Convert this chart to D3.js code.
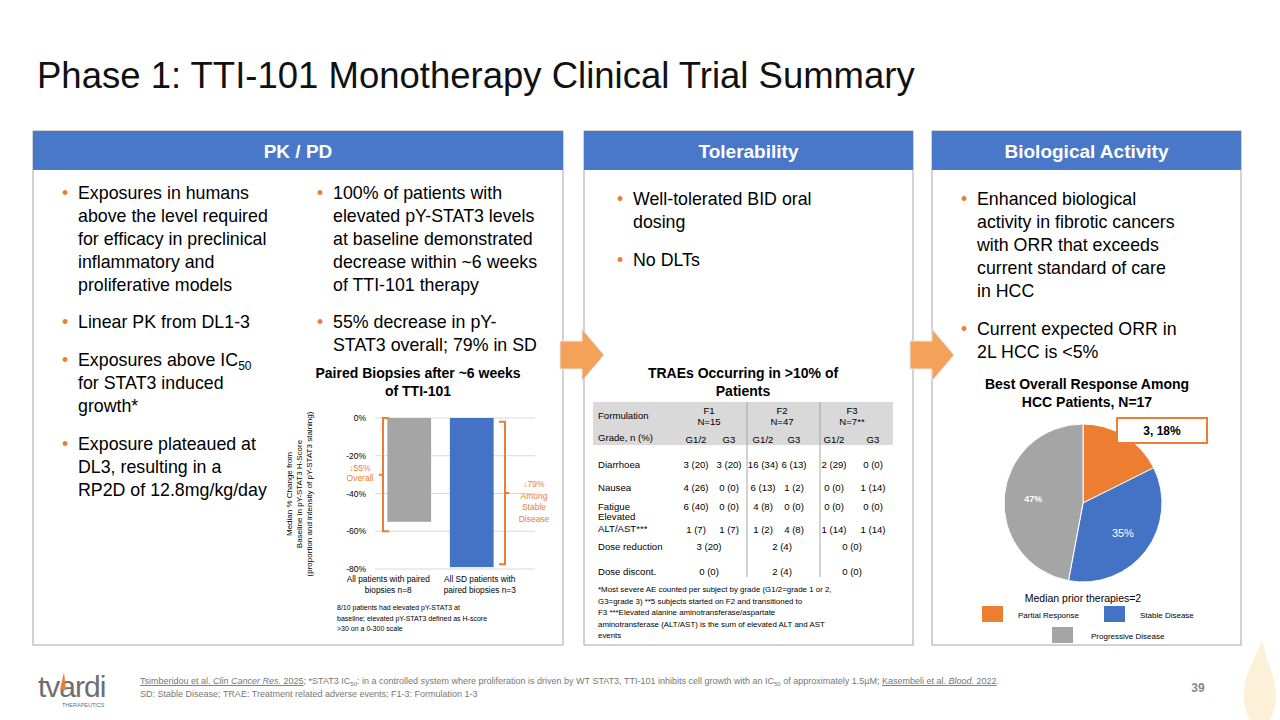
<!DOCTYPE html>
<html><head><meta charset="utf-8">
<script src="https://cdn.jsdelivr.net/npm/d3@7"></script>
<style>body{margin:0;background:#fff}svg{font-family:Arial,"Liberation Sans",sans-serif;display:block}</style>
</head><body>
<svg id="s" width="1280" height="720"></svg>
<script>
// bar chart data
var barCats = [["All patients with paired","biopsies n=8"],["All SD patients with","paired biopsies n=3"]];
var barVals = [-55, -79];
var barColors = ["#a5a5a5","#4472c4"];
var barTicks = [0,-20,-40,-60,-80];
// table data
var tblGroups = [["F1","N=15"],["F2","N=47"],["F3","N=7**"]];
var tblRows = ["Diarrhoea","Nausea","Fatigue","Elevated ALT/AST***"];
var tblVals = [
  ["3 (20)","3 (20)","16 (34)","6 (13)","2 (29)","0 (0)"],
  ["4 (26)","0 (0)","6 (13)","1 (2)","0 (0)","1 (14)"],
  ["6 (40)","0 (0)","4 (8)","0 (0)","0 (0)","0 (0)"],
  ["1 (7)","1 (7)","1 (2)","4 (8)","1 (14)","1 (14)"]];
var doseRows = [["Dose reduction","3 (20)","2 (4)","0 (0)"],["Dose discont.","0 (0)","2 (4)","0 (0)"]];
// pie data
var pieCats = ["Partial Response","Stable Disease","Progressive Disease"];
var pieVals = [3, 6, 8];
var pieColors = ["#ed7d31","#4472c4","#a5a5a5"];

var svg = d3.select("#s");
var ORG = "#ed7d31", BLUE = "#4a78c9", TXT = "#000";

svg.append("text").attr("x",37).attr("y",88).attr("font-size",36.5).attr("fill","#111")
  .text("Phase 1: TTI-101 Monotherapy Clinical Trial Summary");

// panels
[[33,563,"PK / PD"],[584,913,"Tolerability"],[932,1241,"Biological Activity"]].forEach(function(p){
  svg.append("rect").attr("x",p[0]).attr("y",131).attr("width",p[1]-p[0]).attr("height",514)
    .attr("fill","none").attr("stroke","#a6a6a6");
  svg.append("rect").attr("x",p[0]).attr("y",131).attr("width",p[1]-p[0]).attr("height",39).attr("fill",BLUE);
  svg.append("text").attr("x",(p[0]+p[1])/2).attr("y",158).attr("text-anchor","middle")
    .attr("fill","#fff").attr("font-size",19).attr("font-weight","bold").text(p[2]);
});
// arrows
[[560,355],[910,355]].forEach(function(a){
  var x=a[0], y=a[1];
  svg.append("path").attr("d","M"+x+","+(y-14)+"L"+(x+22)+","+(y-14)+"L"+(x+22)+","+(y-26)+"L"+(x+44)+","+y+
    "L"+(x+22)+","+(y+26)+"L"+(x+22)+","+(y+14)+"L"+x+","+(y+14)+"Z")
    .attr("fill","#f4a259").attr("stroke","#e8e8e8");
});

function bullets(x, items, size){
  items.forEach(function(it){
    svg.append("text").attr("x",x-16).attr("y",it.y).attr("fill",ORG).attr("font-size",size).text("•");
    it.lines.forEach(function(l,i){
      var t = svg.append("text").attr("x",x).attr("y",it.y+i*23).attr("font-size",size).attr("fill",TXT);
      if (Array.isArray(l)) { t.text(l[0]); t.append("tspan").attr("font-size",12).attr("dy",4).text(l[1]); t.append("tspan").attr("dy",-4).text(l[2]); }
      else t.text(l);
    });
  });
}
var BF = 17.8;
bullets(78,[
 {y:199,lines:["Exposures in humans","above the level required","for efficacy in preclinical","inflammatory and","proliferative models"]},
 {y:328,lines:["Linear PK from DL1-3"]},
 {y:366,lines:[["Exposures above IC","50",""],"for STAT3 induced","growth*"]},
 {y:450,lines:["Exposure plateaued at","DL3, resulting in a","RP2D of 12.8mg/kg/day"]}],BF);
bullets(333,[
 {y:199,lines:["100% of patients with","elevated pY-STAT3 levels","at baseline demonstrated","decrease within ~6 weeks","of TTI-101 therapy"]},
 {y:328,lines:["55% decrease in pY-","STAT3 overall; 79% in SD"]}],BF);
bullets(633,[{y:205,lines:["Well-tolerated BID oral","dosing"]},{y:266,lines:["No DLTs"]}],BF);
bullets(977,[{y:205,lines:["Enhanced biological","activity in fibrotic cancers","with ORR that exceeds","current standard of care","in HCC"]},
 {y:335,lines:["Current expected ORR in","2L HCC is <5%"]}],BF);

// ---- bar chart
var gb = svg.append("g");
["Paired Biopsies after ~6 weeks","of TTI-101"].forEach(function(l,i){
  gb.append("text").attr("x",418).attr("y",378+i*18).attr("text-anchor","middle").attr("font-size",14).attr("font-weight","bold").text(l);
});
var y = d3.scaleLinear().domain([-80,0]).range([569,418]);
var x = d3.scaleBand().domain([0,1]).range([378,503]).paddingInner(0.3).paddingOuter(0.15);
barTicks.forEach(function(t){
  gb.append("line").attr("x1",375).attr("x2",535).attr("y1",y(t)).attr("y2",y(t)).attr("stroke","#d9d9d9");
  gb.append("text").attr("x",366).attr("y",y(t)+3).attr("text-anchor","end").attr("font-size",8.5).text(t+"%");
});
gb.selectAll("rect.bar").data(barVals).enter().append("rect")
  .attr("x",function(d,i){return x(i);}).attr("width",x.bandwidth())
  .attr("y",y(0)).attr("height",function(d){return y(d)-y(0);})
  .attr("fill",function(d,i){return barColors[i];});
barCats.forEach(function(c,i){
  c.forEach(function(l,j){
    gb.append("text").attr("x",x(i)+x.bandwidth()/2+(i?8:-21)).attr("y",582+j*11).attr("text-anchor","middle").attr("font-size",8.3).text(l);
  });
});
["Median % Change from","Baseline in pY-STAT3 H-Score","(proportion and intensity of pY-STAT3 staining)"].forEach(function(l,i){
  gb.append("text").attr("transform","translate("+(292+i*10)+",494) rotate(-90)").attr("text-anchor","middle").attr("font-size",8).text(l);
});
function bracket(xb, y0, y1, dir){
  var ym=(y0+y1)/2;
  gb.append("path").attr("d","M"+(xb+6*dir)+","+y0+"L"+xb+","+y0+"L"+xb+","+y1+"L"+(xb+6*dir)+","+y1+"M"+xb+","+ym+"L"+(xb-4*dir)+","+ym)
    .attr("fill","none").attr("stroke",ORG).attr("stroke-width",2);
}
bracket(383, y(0), y(-60), 1);
bracket(505, y(-2), y(-77.5), -1);
["↓55%","Overall"].forEach(function(l,i){
  gb.append("text").attr("x",360).attr("y",471+i*10).attr("text-anchor","middle").attr("fill",ORG).attr("font-size",8.5).text(l);
});
["↓79%","Among","Stable","Disease"].forEach(function(l,i){
  gb.append("text").attr("x",534).attr("y",487+i*11.5).attr("text-anchor","middle").attr("fill",ORG).attr("font-size",8.5).text(l);
});
["8/10 patients had elevated pY-STAT3 at","baseline; elevated pY-STAT3 defined as H-score",">30 on a 0-300 scale"].forEach(function(l,i){
  gb.append("text").attr("x",337).attr("y",610+i*10.5).attr("font-size",7).text(l);
});

// ---- table
var gt = svg.append("g");
["TRAEs Occurring in >10% of","Patients"].forEach(function(l,i){
  gt.append("text").attr("x",743).attr("y",378+i*18).attr("text-anchor","middle").attr("font-size",14).attr("font-weight","bold").text(l);
});
gt.append("rect").attr("x",593).attr("y",402).attr("width",300).attr("height",43).attr("fill","#d9d9d9");
var colX = [696,729,763,794,834,873], grpX = [709,782,852];
[747,820].forEach(function(v){ gt.append("line").attr("x1",v).attr("x2",v).attr("y1",402).attr("y2",577).attr("stroke","#a6a6a6"); });
var fs = 9.6;
gt.append("text").attr("x",598).attr("y",419).attr("font-size",fs).text("Formulation");
tblGroups.forEach(function(g,i){
  g.forEach(function(l,j){ gt.append("text").attr("x",grpX[i]).attr("y",414+j*11).attr("text-anchor","middle").attr("font-size",fs).text(l); });
});
gt.append("text").attr("x",598).attr("y",441).attr("font-size",fs).text("Grade, n (%)");
colX.forEach(function(cx,i){ gt.append("text").attr("x",cx).attr("y",443).attr("text-anchor","middle").attr("font-size",fs).text(i%2?"G3":"G1/2"); });
var rowY = [468,491,510,533];
tblRows.forEach(function(r,i){
  if (i==3){
    gt.append("text").attr("x",598).attr("y",520).attr("font-size",fs).text("Elevated");
    gt.append("text").attr("x",598).attr("y",532).attr("font-size",fs).text("ALT/AST***");
  } else gt.append("text").attr("x",598).attr("y",rowY[i]).attr("font-size",fs).text(r);
  tblVals[i].forEach(function(v,j){
    gt.append("text").attr("x",colX[j]).attr("y",rowY[i]).attr("text-anchor","middle").attr("font-size",fs).text(v);
  });
});
doseRows.forEach(function(r,i){
  var yy = 550+i*25;
  gt.append("text").attr("x",598).attr("y",yy).attr("font-size",fs).text(r[0]);
  grpX.forEach(function(gx,j){ gt.append("text").attr("x",gx).attr("y",yy).attr("text-anchor","middle").attr("font-size",fs).text(r[j+1]); });
});
["*Most severe AE counted per subject by grade (G1/2=grade 1 or 2,","G3=grade 3) **5 subjects started on F2 and transitioned to","F3  ***Elevated alanine aminotransferase/aspartate","aminotransferase (ALT/AST) is the sum of elevated ALT and AST","events"].forEach(function(l,i){
  gt.append("text").attr("x",598).attr("y",592+i*11.5).attr("font-size",7.9).text(l);
});

// ---- pie
var gp = svg.append("g");
["Best Overall Response Among","HCC Patients, N=17"].forEach(function(l,i){
  gp.append("text").attr("x",1087).attr("y",389+i*18).attr("text-anchor","middle").attr("font-size",14).attr("font-weight","bold").text(l);
});
var total = d3.sum(pieVals);
var arcs = d3.pie().sort(null)(pieVals);
var arc = d3.arc().innerRadius(0).outerRadius(79);
var pg = gp.append("g").attr("transform","translate(1083,503)");
pg.selectAll("path").data(arcs).enter().append("path").attr("d",arc)
  .attr("fill",function(d,i){return pieColors[i];}).attr("stroke","#fff").attr("stroke-width",1);
var lab = d3.arc().innerRadius(50).outerRadius(50);
pg.selectAll("text.pl").data(arcs.slice(1)).enter().append("text")
  .attr("transform",function(d){return "translate("+lab.centroid(d)+")";})
  .attr("text-anchor","middle").attr("dy",4).attr("fill","#fff")
  .attr("font-size",function(d,i){return i?9:11;}).attr("font-weight",function(d,i){return i?"bold":"normal";})
  .text(function(d){return Math.round(d.value/total*100)+"%";});
gp.append("rect").attr("x",1117).attr("y",418).attr("width",90).attr("height",25).attr("fill","#fff").attr("stroke",ORG).attr("stroke-width",2);
gp.append("text").attr("x",1162).attr("y",435).attr("text-anchor","middle").attr("font-size",12).attr("font-weight","bold")
  .text(pieVals[0]+", "+Math.round(pieVals[0]/total*100)+"%");
gp.append("text").attr("x",1083).attr("y",602).attr("text-anchor","middle").attr("font-size",10.5).text("Median prior therapies=2");
var leg = [[982,606,1018,618],[1104,606,1140,618],[1052,627,1091,639]];
pieCats.forEach(function(c,i){
  gp.append("rect").attr("x",leg[i][0]).attr("y",leg[i][1]).attr("width",21).attr("height",16).attr("fill",pieColors[i]);
  gp.append("text").attr("x",leg[i][2]).attr("y",leg[i][3]).attr("font-size",8).text(c);
});

// ---- footer
svg.append("text").attr("x",38).attr("y",697).attr("font-size",30).attr("fill","#6d6e71").attr("letter-spacing",-1).text("tvardi");
svg.append("path").attr("d","M64,672 L60,690 L66,690 Z").attr("fill",ORG);
svg.append("text").attr("x",62).attr("y",707).attr("font-size",5.5).attr("fill","#6d6e71").text("THERAPEUTICS");
var f1 = svg.append("text").attr("x",140).attr("y",684).attr("font-size",9).attr("fill","#777");
f1.append("tspan").attr("text-decoration","underline").text("Tsimberidou et al. ");
f1.append("tspan").attr("text-decoration","underline").attr("font-style","italic").text("Clin Cancer Res.");
f1.append("tspan").attr("text-decoration","underline").text(" 2025");
f1.append("tspan").text("; *STAT3 IC");
f1.append("tspan").attr("font-size",6).attr("dy",2).text("50");
f1.append("tspan").attr("dy",-2).text(": in a controlled system where proliferation is driven by WT STAT3, TTI-101 inhibits cell growth with an IC");
f1.append("tspan").attr("font-size",6).attr("dy",2).text("50");
f1.append("tspan").attr("dy",-2).text(" of approximately 1.5µM; ");
f1.append("tspan").attr("text-decoration","underline").text("Kasembeli et al. ");
f1.append("tspan").attr("text-decoration","underline").attr("font-style","italic").text("Blood.");
f1.append("tspan").attr("text-decoration","underline").text(" 2022");
f1.append("tspan").text(".");
svg.append("text").attr("x",140).attr("y",697).attr("font-size",9).attr("fill","#777")
  .text("SD: Stable Disease; TRAE: Treatment related adverse events; F1-3: Formulation 1-3");
svg.append("path").attr("d","M1250,720 C1235,690 1250,670 1262,640 C1268,670 1285,690 1270,720 Z").attr("fill","#fdf0d8");
svg.append("text").attr("x",1198).attr("y",692).attr("text-anchor","middle").attr("font-size",12).attr("font-weight","bold").attr("fill","#888").text("39");
</script>
</body></html>
